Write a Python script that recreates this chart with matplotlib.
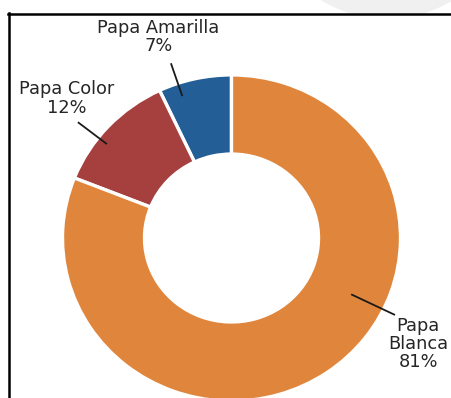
import numpy as np
import matplotlib
matplotlib.use("Agg")
import matplotlib.pyplot as plt
from matplotlib.patches import Ellipse
from matplotlib.lines import Line2D

# ---- data ----
categories = ["Papa Amarilla", "Papa Color", "Papa Blanca"]
shares = [7, 12, 81]
label_texts = ["Papa Amarilla\n7%", "Papa Color\n12%", "Papa\nBlanca\n81%"]
colors = ["#245E96", "#A6403F", "#E0863C"]

W, H = 451, 398
S = 0.965  # vertical squash of the source picture

fig = plt.figure(figsize=(W / 100, H / 100), dpi=100)
fig.patch.set_facecolor("white")
ax = fig.add_axes([0, 0, 1, 1])
ax.set_xlim(0, W)
ax.set_ylim(0, H / S)
ax.set_aspect("auto")
ax.axis("off")


def P(xp, yp):
    """pixel coords (from top-left) -> data coords"""
    return xp, (H - yp) / S


cx, cy = P(231.5, 238)
R_out, R_in = 169, 87

wedges, _ = ax.pie(shares, colors=colors, startangle=90, counterclock=True,
                   radius=R_out, center=(cx, cy),
                   wedgeprops=dict(width=R_out - R_in, edgecolor="white",
                                   linewidth=2.4))
ax.set_xlim(0, W)
ax.set_ylim(0, H / S)
ax.set_aspect("auto")

# faint watermark shape at top right
wm = Ellipse(P(387, -106), 250, 250 / S, facecolor="#f0f0f0", edgecolor="none",
             zorder=0)
ax.add_patch(wm)
ax.add_patch(plt.Rectangle((0, 0), W, (H - 13) / S,
                           facecolor="white", edgecolor="none", zorder=0.5))

# frame
fig.add_artist(Line2D([8 / W, 1], [1 - 13.5 / H] * 2, color="black", lw=1.8))
fig.add_artist(Line2D([8.5 / W] * 2, [0, 1 - 12.8 / H], color="black", lw=1.8))

# labels with leader lines (angle in degrees, r inner/outer)
leaders = [(108.5, 156, 190), (142, 159, 194), (334, 134, 181)]
text_pos = [(158.5, 37), (67, 98.5), (418, 344)]
for txt, (ang, r0, r1), (tx, ty) in zip(label_texts, leaders, text_pos):
    a = np.deg2rad(ang)
    x0, y0 = cx + r0 * np.cos(a), cy + r0 * np.sin(a)
    x1, y1 = cx + r1 * np.cos(a), cy + r1 * np.sin(a)
    ax.plot([x0, x1], [y0, y1], color="#1a1a1a", lw=1.3, zorder=5)
    ax.text(*P(tx, ty), txt, ha="center", va="center", fontsize=12.8,
            color="#262626", family="DejaVu Sans", linespacing=1.02, zorder=6)

fig.savefig("out.png", dpi=100, facecolor="white")
